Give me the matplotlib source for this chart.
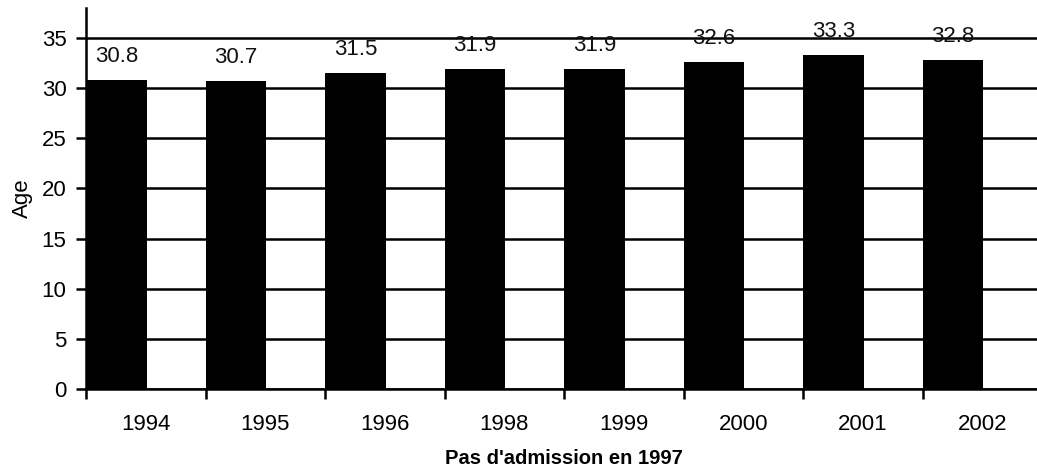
import matplotlib.pyplot as plt
import numpy as np

plt.rcParams['font.family'] = ['Liberation Sans', 'DejaVu Sans']

years = ['1994', '1995', '1996', '1998', '1999', '2000', '2001', '2002']
ages = [30.8, 30.7, 31.5, 31.9, 31.9, 32.6, 33.3, 32.8]

fig = plt.figure(figsize=(10.37, 4.74), dpi=100)
# axes runs a little past the right edge, like the original export
ax = fig.add_axes([86 / 1037, 85 / 474, 956 / 1037, 381 / 474])

x = np.arange(len(years))
ax.bar(x, ages, width=0.51, align='edge', color='black', zorder=3)

for xi, v in zip(x, ages):
    ax.annotate(f'{v:.1f}', (xi + 0.255, v), xytext=(0, 13), textcoords='offset points',
                ha='center', va='baseline', fontsize=16, color='#111111', zorder=4)

ax.set_xlim(0, len(years))
ax.set_ylim(0, 38)
ax.set_yticks(range(0, 40, 5))
ax.yaxis.grid(True, color='black', linewidth=1.8, zorder=1)
ax.set_axisbelow(True)

ax.set_xticks(x)
ax.set_xticklabels([])
ax.set_xticks(x + 0.5, minor=True)
ax.set_xticklabels(years, minor=True)
ax.tick_params(axis='x', which='major', direction='out', length=7, width=1.8)
ax.tick_params(axis='x', which='minor', length=0, pad=18, labelsize=16)
ax.tick_params(axis='y', direction='out', length=7, width=1.8, pad=7, labelsize=16)

for side in ['top', 'right']:
    ax.spines[side].set_visible(False)
for side in ['left', 'bottom']:
    ax.spines[side].set_linewidth(1.8)

ax.set_ylabel('Age', fontsize=16, labelpad=6)
fig.text(564 / 1037, 1 - 459 / 474, "Pas d'admission en 1997", ha='center', va='center',
         fontsize=14.5, fontweight='bold')

fig.savefig('out.png', dpi=100)
